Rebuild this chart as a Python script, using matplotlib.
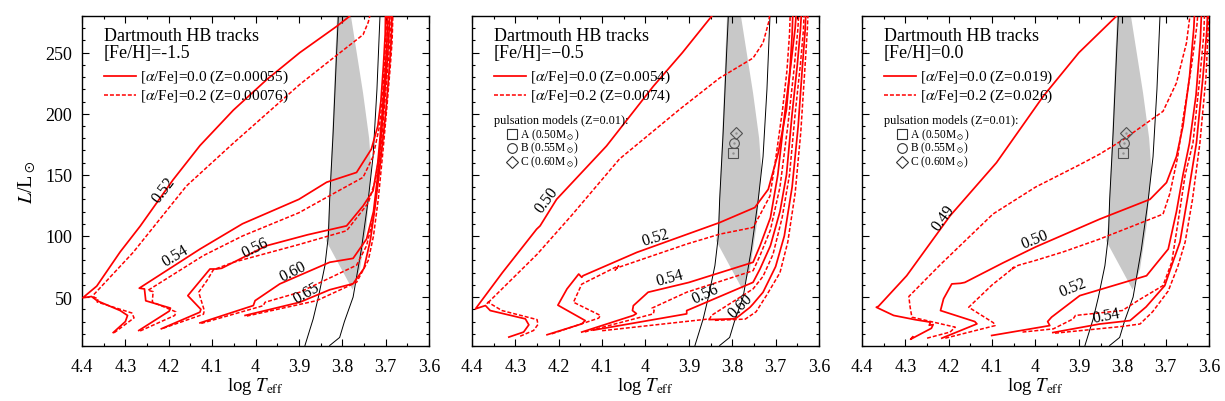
import matplotlib
matplotlib.use("Agg")
import matplotlib.pyplot as plt
from matplotlib.ticker import MultipleLocator

plt.rcParams['font.family'] = ['Liberation Serif', 'DejaVu Serif']
plt.rcParams['mathtext.fontset'] = 'stix'

# ---------------- common data ----------------
xlim = (4.4, 3.6)
ylim = (10, 280)
xticks = [4.4, 4.3, 4.2, 4.1, 4.0, 3.9, 3.8, 3.7, 3.6]
xticklabels = ["4.4", "4.3", "4.2", "4.1", "4", "3.9", "3.8", "3.7", "3.6"]
yticks = [50, 100, 150, 200, 250]

# instability strip (gray) and its edges (black lines)
strip_T = [3.812, 3.780, 3.752, 3.738, 3.733, 3.744, 3.759, 3.776, 3.837, 3.832, 3.827, 3.820, 3.815, 3.812]
strip_L = [280, 280, 217, 180, 155, 108, 73, 56, 96, 110, 150, 210, 255, 280]
blue_edge_T = [3.886, 3.867, 3.855, 3.840, 3.832, 3.829, 3.821, 3.813, 3.809, 3.807]
blue_edge_L = [10.4, 32.2, 50, 75.7, 100, 130, 184.6, 250, 280, 290]
red_edge_T = [3.829, 3.806, 3.795, 3.775, 3.756, 3.740, 3.729, 3.720, 3.713, 3.711]
red_edge_L = [10.4, 17, 30, 50, 89, 130, 165, 220, 280, 290]

# pulsation models (Z=0.01)
puls_T = [3.799, 3.797, 3.792]
puls_L = [167.6, 175.8, 184.0]
puls_labels = ["A (0.50M$_\\odot$)", "B (0.55M$_\\odot$)", "C (0.60M$_\\odot$)"]
puls_markers = ['s', 'o', 'D']

# ---------------- panel 1: [Fe/H]=-1.5 ----------------
p1_052s_T = [4.328, 4.300, 4.295, 4.312, 4.365, 4.378, 4.398, 4.366, 4.312, 4.266, 4.190, 4.128, 4.051, 3.974, 3.898, 3.813, 3.786, 3.770]
p1_052s_L = [21, 30, 35, 39, 47, 50.5, 49.5, 59, 87, 108, 146, 174, 203, 228, 250, 271.5, 279, 284]
p1_052d_T = [4.326, 4.280, 4.285, 4.365, 4.363, 4.373, 4.374, 4.282, 4.159, 4.051, 3.898, 3.821, 3.752, 3.740, 3.733]
p1_052d_L = [20.8, 33, 37, 46, 48.6, 50, 51.6, 86.6, 141, 176, 224, 245.6, 264.7, 275, 285]
p1_054s_T = [4.269, 4.199, 4.196, 4.253, 4.256, 4.268, 4.128, 4.030, 3.900, 3.836, 3.767, 3.733, 3.718, 3.711, 3.705, 3.701, 3.700]
p1_054s_L = [22.7, 38.5, 41, 47, 56.7, 57.3, 89.3, 110, 130, 144, 152, 171, 190, 210, 240, 265, 285]
p1_054d_T = [4.266, 4.186, 4.184, 4.238, 4.236, 4.248, 4.120, 4.030, 3.900, 3.829, 3.752, 3.729, 3.714, 3.707, 3.702, 3.699, 3.697]
p1_054d_L = [22.3, 35, 38, 46, 54.5, 55.5, 84, 100, 119, 133, 148, 165, 190, 215, 245, 268, 285]
p1_056s_T = [4.217, 4.128, 4.126, 4.156, 4.105, 4.090, 4.078, 3.975, 3.880, 3.790, 3.752, 3.729, 3.718, 3.708, 3.701, 3.697, 3.695]
p1_056s_L = [24.1, 37.7, 40, 51.2, 73, 73, 73.6, 92, 101, 108.3, 124.6, 137, 160, 200, 235, 260, 285]
p1_056d_T = [4.213, 4.120, 4.118, 4.131, 4.112, 4.097, 4.051, 3.900, 3.790, 3.740, 3.724, 3.713, 3.705, 3.698, 3.694, 3.692]
p1_056d_L = [24.5, 36, 39, 54, 63.5, 72.4, 78.5, 93, 104.3, 127, 145, 170, 205, 240, 265, 285]
p1_060s_T = [4.128, 4.005, 4.001, 3.944, 3.829, 3.775, 3.744, 3.728, 3.718, 3.706, 3.698, 3.693, 3.690]
p1_060s_L = [28.9, 43.1, 47.1, 60.8, 78.5, 81.7, 97.5, 120, 150, 200, 235, 260, 285]
p1_060d_T = [4.125, 3.982, 3.978, 3.898, 3.767, 3.744, 3.728, 3.716, 3.705, 3.697, 3.691, 3.688, 3.687]
p1_060d_L = [28.5, 43, 45.8, 54, 76.1, 92, 115, 150, 195, 230, 255, 270, 285]
p1_065s_T = [4.024, 3.898, 3.829, 3.775, 3.750, 3.735, 3.724, 3.712, 3.700, 3.692, 3.688, 3.686, 3.685]
p1_065s_L = [35, 45.8, 56, 61, 73.5, 97, 125, 160, 200, 235, 255, 270, 285]
p1_065d_T = [4.020, 3.859, 3.767, 3.740, 3.728, 3.717, 3.706, 3.696, 3.689, 3.685, 3.684, 3.683]
p1_065d_L = [34.5, 47.1, 62.1, 80, 100, 130, 170, 210, 240, 260, 272, 285]
p1_label_text = ["0.52", "0.54", "0.56", "0.60", "0.65"]
p1_label_T = [4.213, 4.186, 4.001, 3.913, 3.882]
p1_label_L = [138.3, 84, 90.7, 71.6, 54]
p1_label_rot = [53, 31, 26, 27, 30]

# ---------------- panel 2: [Fe/H]=-0.5 ----------------
p2_050s_T = [4.315, 4.281, 4.269, 4.277, 4.358, 4.369, 4.392, 4.330, 4.251, 4.243, 4.205, 4.090, 3.982, 3.915, 3.848, 3.835]
p2_050s_L = [17.3, 21.4, 27.3, 32.2, 39, 43.1, 40.4, 70, 105.6, 108.3, 130, 173.6, 222.5, 250, 279.6, 285]
p2_050d_T = [4.289, 4.258, 4.248, 4.250, 4.331, 4.363, 4.366, 4.250, 4.170, 4.060, 3.920, 3.829, 3.752, 3.729, 3.716, 3.712]
p2_050d_L = [18, 22.7, 27.6, 31.6, 39, 45.8, 44.4, 85, 117, 163, 204, 229.3, 245.6, 258, 275, 285]
p2_052s_T = [4.227, 4.147, 4.139, 4.202, 4.181, 4.154, 4.147, 4.144, 4.020, 3.829, 3.748, 3.717, 3.694, 3.675, 3.667, 3.662, 3.660]
p2_052s_L = [19.2, 28.1, 30.8, 43.4, 56.7, 68.9, 66.2, 67.5, 86.6, 111, 123.3, 138.2, 168, 203.5, 235, 265, 285]
p2_052d_T = [4.216, 4.108, 4.104, 4.166, 4.147, 4.062, 4.070, 4.065, 3.905, 3.829, 3.752, 3.735, 3.713, 3.700, 3.684, 3.674, 3.668, 3.666]
p2_052d_L = [20, 32.8, 35, 45.8, 60.6, 75.7, 72, 74, 93.4, 101.5, 107, 118, 132.8, 162.7, 203.5, 235, 265, 285]
p2_054s_T = [4.147, 4.028, 4.021, 4.030, 4.028, 3.994, 3.900, 3.752, 3.736, 3.712, 3.695, 3.679, 3.665, 3.655, 3.652]
p2_054s_L = [21.4, 35, 36.5, 39, 43, 54, 62, 78.5, 92, 115, 150, 200, 240, 270, 285]
p2_054d_T = [4.140, 3.982, 3.980, 3.985, 3.905, 3.752, 3.736, 3.712, 3.690, 3.672, 3.658, 3.649, 3.646]
p2_054d_L = [21.5, 36.3, 39, 41, 54, 71.6, 84, 105, 140, 190, 235, 268, 285]
p2_056s_T = [4.120, 3.905, 3.905, 3.898, 3.752, 3.736, 3.712, 3.690, 3.675, 3.662, 3.650, 3.643, 3.640]
p2_056s_L = [23, 36.3, 39, 40, 62.1, 73, 92, 120, 150, 200, 240, 268, 285]
p2_056d_T = [4.100, 3.852, 3.848, 3.752, 3.729, 3.706, 3.685, 3.668, 3.655, 3.643, 3.636, 3.634]
p2_056d_L = [22.5, 32.2, 35, 56.7, 67, 85, 115, 150, 200, 240, 268, 285]
p2_060s_T = [3.853, 3.798, 3.790, 3.759, 3.752, 3.729, 3.700, 3.680, 3.662, 3.648, 3.638, 3.632, 3.630]
p2_060s_L = [31.6, 32.2, 33, 41.7, 44.4, 54, 75, 100, 140, 190, 240, 268, 285]
p2_060d_T = [3.840, 3.770, 3.745, 3.720, 3.690, 3.672, 3.655, 3.642, 3.632, 3.627, 3.625]
p2_060d_L = [31, 32, 38, 52, 70, 95, 135, 185, 240, 268, 285]
p2_label_text = ["0.50", "0.52", "0.54", "0.56", "0.60"]
p2_label_T = [4.228, 3.978, 3.944, 3.863, 3.782]
p2_label_L = [130, 99, 66, 52.6, 43]
p2_label_rot = [53, 17, 15, 25, 45]

# ---------------- panel 3: [Fe/H]=0.0 ----------------
p3_049s_T = [4.283, 4.288, 4.240, 4.236, 4.245, 4.242, 4.277, 4.327, 4.367, 4.362, 4.297, 4.197, 4.090, 3.982, 3.900, 3.813, 3.805]
p3_049s_L = [17.5, 15.5, 24.5, 27.5, 27.0, 29.5, 31.5, 35, 41.7, 42.5, 67.5, 116.5, 160, 214.4, 250, 280, 284]
p3_049d_T = [4.250, 4.197, 4.185, 4.285, 4.289, 4.292, 4.221, 4.098, 4.000, 3.900, 3.852, 3.797, 3.706, 3.675, 3.652, 3.644, 3.643]
p3_049d_L = [16.4, 21.4, 25.4, 33.6, 41.7, 50.5, 76, 118, 140, 158, 167, 179, 202, 225.3, 257.9, 280, 285]
p3_050s_T = [4.216, 4.135, 4.140, 4.219, 4.212, 4.193, 4.173, 4.163, 4.075, 4.000, 3.852, 3.736, 3.698, 3.675, 3.660, 3.645, 3.635, 3.633]
p3_050s_L = [16.4, 28.1, 30, 39, 48.6, 60.8, 61.3, 62, 78, 91, 113.8, 130, 143.7, 165, 190, 230, 270, 285]
p3_050d_T = [4.208, 4.093, 4.097, 4.154, 4.100, 4.059, 4.050, 4.056, 4.040, 4.000, 3.936, 3.852, 3.706, 3.690, 3.672, 3.658, 3.640, 3.628, 3.625]
p3_050d_L = [16.4, 26.7, 29, 41.7, 60, 71.6, 74.5, 72.5, 76, 80, 87, 97.5, 117.9, 135, 165, 200, 240, 272, 285]
p3_052s_T = [4.101, 3.967, 3.972, 3.963, 3.898, 3.744, 3.720, 3.694, 3.675, 3.660, 3.645, 3.630, 3.620, 3.617]
p3_052s_L = [18.6, 26.7, 30, 33.6, 51.2, 67.5, 78, 89.3, 120, 150, 176, 215, 260, 285]
p3_052d_T = [4.030, 3.959, 3.913, 3.908, 3.800, 3.760, 3.706, 3.686, 3.672, 3.655, 3.637, 3.621, 3.612, 3.610]
p3_052d_L = [21.4, 24, 32.2, 35, 39, 48, 59.4, 78.5, 110, 150, 176, 230, 265, 285]
p3_054s_T = [3.960, 3.852, 3.782, 3.745, 3.702, 3.682, 3.667, 3.650, 3.629, 3.614, 3.605, 3.603]
p3_054s_L = [21, 28, 30.8, 42, 59.4, 80, 95, 130, 176, 230, 268, 285]
p3_054d_T = [3.955, 3.800, 3.759, 3.730, 3.694, 3.672, 3.655, 3.638, 3.621, 3.607, 3.602, 3.601]
p3_054d_L = [20.5, 26, 28, 38, 55, 75, 95, 130, 176, 230, 268, 285]
p3_label_text = ["0.49", "0.50", "0.52", "0.54"]
p3_label_T = [4.213, 4.001, 3.913, 3.836]
p3_label_L = [115, 97.5, 58, 35]
p3_label_rot = [54, 22, 22, 11]

panels = [
    dict(feh="[Fe/H]=-1.5", z0="0.00055", z2="0.00076", puls=False,
         solid=[(p1_052s_T, p1_052s_L), (p1_054s_T, p1_054s_L), (p1_056s_T, p1_056s_L),
                (p1_060s_T, p1_060s_L), (p1_065s_T, p1_065s_L)],
         dashed=[(p1_052d_T, p1_052d_L), (p1_054d_T, p1_054d_L), (p1_056d_T, p1_056d_L),
                 (p1_060d_T, p1_060d_L), (p1_065d_T, p1_065d_L)],
         labels=(p1_label_text, p1_label_T, p1_label_L, p1_label_rot)),
    dict(feh="[Fe/H]=\u22120.5", z0="0.0054", z2="0.0074", puls=True,
         solid=[(p2_050s_T, p2_050s_L), (p2_052s_T, p2_052s_L), (p2_054s_T, p2_054s_L),
                (p2_056s_T, p2_056s_L), (p2_060s_T, p2_060s_L)],
         dashed=[(p2_050d_T, p2_050d_L), (p2_052d_T, p2_052d_L), (p2_054d_T, p2_054d_L),
                 (p2_056d_T, p2_056d_L), (p2_060d_T, p2_060d_L)],
         labels=(p2_label_text, p2_label_T, p2_label_L, p2_label_rot)),
    dict(feh="[Fe/H]=0.0", z0="0.019", z2="0.026", puls=True,
         solid=[(p3_049s_T, p3_049s_L), (p3_050s_T, p3_050s_L), (p3_052s_T, p3_052s_L),
                (p3_054s_T, p3_054s_L)],
         dashed=[(p3_049d_T, p3_049d_L), (p3_050d_T, p3_050d_L), (p3_052d_T, p3_052d_L),
                 (p3_054d_T, p3_054d_L)],
         labels=(p3_label_text, p3_label_T, p3_label_L, p3_label_rot)),
]

W, H = 1225, 402
fig = plt.figure(figsize=(W / 100, H / 100), dpi=100)
lefts = [82, 472, 862]
RED = '#ff0000'
DASH = (0, (2.6, 1.3))

for i, (left, P) in enumerate(zip(lefts, panels)):
    ax = fig.add_axes([left / W, 1 - 347 / H, 347 / W, 330 / H])
    ax.set_xlim(*xlim)
    ax.set_ylim(*ylim)
    ax.fill(strip_T, strip_L, color='#c8c8c8', lw=0, zorder=1)
    ax.plot(blue_edge_T, blue_edge_L, color='black', lw=0.7, zorder=2)
    ax.plot(red_edge_T, red_edge_L, color='black', lw=0.7, zorder=2)
    for T, L in P['solid']:
        ax.plot(T, L, color=RED, lw=1.25, zorder=3)
    for T, L in P['dashed']:
        ax.plot(T, L, color=RED, lw=1.1, linestyle=DASH, zorder=3)
    txt, lt, ll, lr = P['labels']
    for s, t, l, r in zip(txt, lt, ll, lr):
        ax.text(t, l, s, rotation=r, rotation_mode='anchor', ha='center', va='center',
                fontsize=11.5, zorder=4)

    # text block
    ax.text(0.063, 0.942, "Dartmouth HB tracks", transform=ax.transAxes, fontsize=13,
            ha='left', va='center')
    ax.text(0.063, 0.889, P['feh'], transform=ax.transAxes, fontsize=13, ha='left', va='center')
    ax.plot([0.062, 0.155], [0.818, 0.818], transform=ax.transAxes, color=RED, lw=1.25)
    ax.plot([0.062, 0.155], [0.761, 0.761], transform=ax.transAxes, color=RED, lw=1.1, linestyle=DASH)
    ax.text(0.168, 0.818, "[$\\alpha$/Fe]=0.0 (Z=%s)" % P['z0'], transform=ax.transAxes,
            fontsize=11, ha='left', va='center')
    ax.text(0.168, 0.761, "[$\\alpha$/Fe]=0.2 (Z=%s)" % P['z2'], transform=ax.transAxes,
            fontsize=11, ha='left', va='center')

    if P['puls']:
        for t, l, m in zip(puls_T, puls_L, puls_markers):
            ax.plot(t, l, marker=m, ms=7 if m != 'D' else 6, mfc='none', mec='#505050', mew=0.8,
                    linestyle='none', zorder=5)
            ax.plot(t, l, marker='.', ms=1.5, color='#909090', linestyle='none', zorder=5)
        ax.text(0.063, 0.685, "pulsation models (Z=0.01):", transform=ax.transAxes,
                fontsize=8.8, ha='left', va='center')
        for k, (lab, m) in enumerate(zip(puls_labels, puls_markers)):
            yy = [0.643, 0.601, 0.559][k]
            ax.plot([0.114], [yy], marker=m, ms=7 if m != 'D' else 6, mfc='none', mec='#303030',
                    mew=0.8, transform=ax.transAxes, linestyle='none')
            ax.text(0.138, yy, lab, transform=ax.transAxes, fontsize=8.3, ha='left', va='center')

    ax.set_xticks(xticks)
    ax.set_xticklabels(xticklabels)
    ax.xaxis.set_minor_locator(MultipleLocator(0.05))
    ax.set_yticks(yticks)
    ax.yaxis.set_minor_locator(MultipleLocator(10))
    ax.tick_params(which='both', direction='in', top=True, right=True, width=0.8)
    ax.tick_params(which='major', length=5, labelsize=13)
    ax.tick_params(axis='x', which='major', pad=9)
    ax.tick_params(axis='y', which='major', pad=7)
    ax.tick_params(which='minor', length=2.5)
    for sp in ax.spines.values():
        sp.set_linewidth(1.0)
    if i == 0:
        ax.set_ylabel("$L$/L$_\\odot$", fontsize=14.5, labelpad=5)
    else:
        ax.set_yticklabels([])
    ax.set_xlabel("log $T_{\\rm eff}$", fontsize=13.5, labelpad=0)

fig.savefig("out.png", dpi=100)
